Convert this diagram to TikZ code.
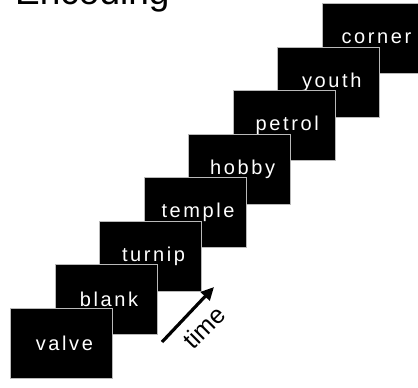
\documentclass[tikz,border=0pt]{standalone}
\usepackage{fontspec}
\setmainfont{Liberation Sans}
\newfontfamily\wordfont[LetterSpace=13]{Liberation Sans}
\usetikzlibrary{arrows.meta}
\begin{document}
\begin{tikzpicture}[x=1pt,y=-1pt,
  card/.style={fill=black,draw=gray!55,line width=0.8pt,minimum width=102pt,minimum height=70pt,inner sep=0pt,anchor=north west},
  word/.style={text=white,font=\wordfont\fontsize{20}{24}\selectfont,inner sep=0pt}]
\useasboundingbox (0,0) rectangle (418,388);
\clip (0,0) rectangle (418,388);
\node[anchor=base west,inner sep=0pt,font=\fontsize{37}{40}\selectfont] (title) at (15,5) {Encoding};
\foreach \w [count=\i from 0] in {corner,youth,petrol,hobby,temple,turnip,blank,valve}{
  \pgfmathsetmacro\xx{322-44.57*\i}
  \pgfmathsetmacro\yy{3+43.57*\i}
  \node[card] (c\i) at (\xx,\yy) {};
  \node[word] (w\i) at ([xshift=3pt]c\i.center) {\w};
}
\coordinate (ta) at (162,342);
\coordinate (tb) at (214,287);
\draw[line width=3.2pt,-{Triangle[length=13pt,width=12pt]}] (ta) -- (tb);
\node[rotate=45,font=\fontsize{25}{28}\selectfont,inner sep=0pt] (time) at (204,327) {time};
\end{tikzpicture}
\end{document}
